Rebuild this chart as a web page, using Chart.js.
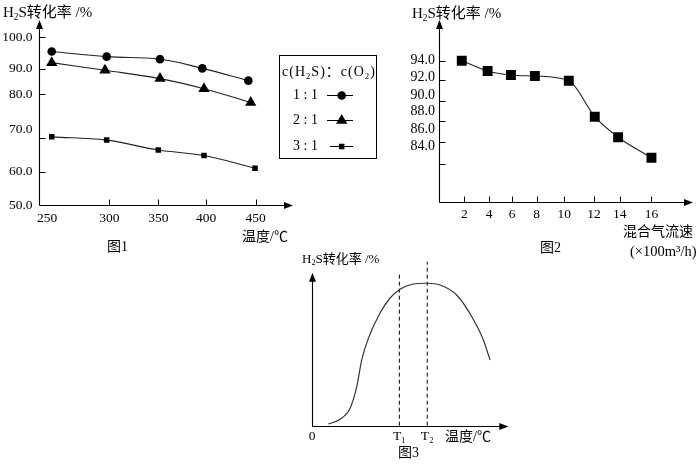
<!DOCTYPE html>
<html>
<head>
<meta charset="utf-8">
<script src="https://cdn.jsdelivr.net/npm/chart.js@4/dist/chart.umd.min.js"></script>
<style>
  html, body { margin: 0; padding: 0; background: #fff; }
  body { position: relative; width: 700px; height: 464px; overflow: hidden; }
  canvas { position: absolute; }
  .t { position: absolute; line-height: 1; white-space: nowrap; transform: translateY(-50%);
       font-family: "Liberation Serif", "Noto Sans CJK SC", serif; font-size: 14px; color: #000; }
  .t .s { font-size: 0.62em; position: relative; top: 0.3em; }
  .box { position: absolute; border: 1px solid #000; }
</style>
</head>
<body>
<canvas id="fig1" width="390" height="250" style="left:0;top:0"></canvas>
<canvas id="fig2" width="300" height="250" style="left:400px;top:0"></canvas>
<canvas id="fig3" width="230" height="195" style="left:290px;top:250px"></canvas>

<!-- textes du figure 1 -->
<div class="t" style="left:3px;top:12px;font-size:15px">H<span class="s">2</span>S转化率 /%</div>
<div class="t" style="left:242px;top:237px">温度/℃</div>
<div class="t" style="left:107px;top:247px">图1</div>
<div class="box" style="left:279px;top:55px;width:96px;height:102px"></div>
<div class="t" style="left:282px;top:72px;font-size:14px;letter-spacing:1px">c(H<span class="s">2</span>S)：c(O<span class="s">2</span>)</div>
<div class="t" style="left:293px;top:95px">1 : 1</div>
<div class="t" style="left:293px;top:120px">2 : 1</div>
<div class="t" style="left:293px;top:146px">3 : 1</div>

<!-- textes du figure 2 -->
<div class="t" style="left:412px;top:13px;font-size:15px">H<span class="s">2</span>S转化率 /%</div>
<div class="t" style="left:623px;top:232px">混合气流速</div>
<div class="t" style="left:630px;top:251px;font-size:14.5px">(×100m³/h)</div>
<div class="t" style="left:540px;top:248px">图2</div>

<!-- textes du figure 3 -->
<div class="t" style="left:302px;top:259px;font-size:13px">H<span class="s">2</span>S转化率 /%</div>
<div class="t" style="left:445px;top:437px">温度/℃</div>
<div class="t" style="left:398px;top:453px">图3</div>

<script>
// Données du figure 1 (température en °C, taux de conversion en %)
const temps11 = [253.8, 297.9, 351.8, 396.1, 442.6];
const conv11 = [95.5, 93.9, 93.1, 90.2, 85.4];
const temps21 = [253.8, 296.5, 351.8, 397.9, 445.0];
const conv21 = [92.0, 89.5, 86.2, 82.2, 78.1];
const temps31 = [253.8, 297.9, 350.0, 397.9, 449.3];
const conv31 = [70.2, 69.3, 66.4, 64.8, 61.1];
const fig1XTicks = [250, 300, 350, 400, 450];
const fig1YTicks = [50, 60, 70, 80, 90, 100];
const ratioLabels = ['1 : 1', '2 : 1', '3 : 1'];

// Données du figure 2 (débit ×100 m3/h)
const flowRates = [1.8, 3.87, 5.89, 7.86, 10.31, 12.05, 13.87, 16.0];
const conv2 = [94.0, 92.93, 92.52, 92.41, 91.93, 88.42, 86.43, 84.56];
const fig2XTicks = [2, 4, 6, 8, 10, 12, 14, 16];
const fig2YTicks = [84, 86, 88, 90, 92, 94];

// Données du figure 3 (courbe qualitative)
const curveT = [8.3, 14.3, 19.4, 22.8, 25.3, 28.7, 34.6, 39.7, 44.8, 51.6, 58.4, 65.2, 73.7, 81.4, 87.3, 90.7];
const curveConv = [1.1, 4.2, 11.4, 25.5, 42.9, 57.1, 73.5, 83.3, 89.2, 92.6, 93.1, 92.0, 85.4, 71.2, 56.0, 42.9];
const T1 = 44.5;
const T2 = 58.7;
const fig3XLabels = ['0', 'T₁', 'T₂'];

// Echelle linéaire par morceaux (les axes du manuel ne sont pas réguliers)
class StopScale extends Chart.LinearScale {
    determineDataLimits() {
        const s = this.options.stops;
        this.min = s[0][0];
        this.max = s[s.length - 1][0];
    }
    buildTicks() {
        return (this.options.tickValues || []).map(v => ({ value: v }));
    }
    _frac(v) {
        const s = this.options.stops;
        const p0 = s[0][1], pN = s[s.length - 1][1];
        let i = 1;
        while (i < s.length - 1 && v > s[i][0]) i++;
        const a = s[i - 1], b = s[i];
        const pos = a[1] + (v - a[0]) / (b[0] - a[0]) * (b[1] - a[1]);
        return (pos - p0) / (pN - p0);
    }
    getPixelForValue(v) {
        if (v === null || v === undefined || isNaN(v)) return NaN;
        return this.getPixelForDecimal(this._frac(v));
    }
    getValueForPixel(p) {
        return this.min + this.getDecimalForPixel(p) * (this.max - this.min);
    }
}
StopScale.id = 'stops';
StopScale.defaults = {};
Chart.register(StopScale);

// Axes avec flèches et petites graduations vers l'intérieur
const arrowAxes = {
    id: 'arrowAxes',
    beforeDatasetsDraw(chart, args, opts) {
        const { ctx, chartArea: a } = chart;
        const xs = chart.scales.x, ys = chart.scales.y;
        const L = Math.round(a.left) + 0.5, B = Math.round(a.bottom) + 0.5;
        ctx.save();
        ctx.strokeStyle = '#000';
        ctx.fillStyle = '#000';
        ctx.lineWidth = 1.1;
        ctx.beginPath();
        ctx.moveTo(L, B); ctx.lineTo(L, a.top + 6);
        ctx.moveTo(L, B); ctx.lineTo(a.right - 6, B);
        ctx.stroke();
        ctx.beginPath();
        ctx.moveTo(L, a.top); ctx.lineTo(L - 3.5, a.top + 9); ctx.lineTo(L + 3.5, a.top + 9); ctx.closePath();
        ctx.moveTo(a.right, B); ctx.lineTo(a.right - 9, B - 3.5); ctx.lineTo(a.right - 9, B + 3.5); ctx.closePath();
        ctx.fill();
        ctx.lineWidth = 1;
        ctx.beginPath();
        (opts.xMarks || []).forEach(v => {
            const px = Math.round(xs.getPixelForValue(v)) + 0.5;
            ctx.moveTo(px, B); ctx.lineTo(px, B - 6);
        });
        (opts.yMarks || []).forEach(v => {
            const py = Math.round(ys.getPixelForValue(v)) + 0.5;
            ctx.moveTo(L, py); ctx.lineTo(L + 6, py);
        });
        ctx.stroke();
        ctx.restore();
    }
};

// Symboles de la légende du figure 1
const ratioLegend = {
    id: 'ratioLegend',
    afterDatasetsDraw(chart, args, opts) {
        if (!opts.rows) return;
        const ctx = chart.ctx;
        chart.data.datasets.forEach((ds, i) => {
            const row = opts.rows[i];
            if (!row) return;
            ctx.save();
            ctx.strokeStyle = '#000';
            ctx.fillStyle = '#000';
            ctx.lineWidth = 1;
            ctx.beginPath();
            ctx.moveTo(row.from, row.y + 0.5);
            ctx.lineTo(row.to, row.y + 0.5);
            ctx.stroke();
            const r = ds.pointRadius, x = opts.markX, y = row.y + 0.5;
            ctx.beginPath();
            if (ds.pointStyle === 'triangle') {
                ctx.moveTo(x, y - r);
                ctx.lineTo(x + Math.sin(2.094) * r, y + r / 2);
                ctx.lineTo(x - Math.sin(2.094) * r, y + r / 2);
                ctx.closePath();
            } else if (ds.pointStyle === 'rect') {
                const h = r * Math.SQRT1_2;
                ctx.rect(x - h, y - h, 2 * h, 2 * h);
            } else {
                ctx.arc(x, y, r, 0, Math.PI * 2);
            }
            ctx.fill();
            ctx.restore();
        });
    }
};

const tickFont = { family: '"Liberation Serif", serif', size: 13.5 };

function pts(xs, ys) {
    return xs.map((x, i) => ({ x: x, y: ys[i] }));
}

function serie(label, xs, ys, style, radius) {
    return {
        label: label,
        data: pts(xs, ys),
        showLine: true,
        borderColor: '#222',
        borderWidth: 1.1,
        backgroundColor: '#000',
        pointBackgroundColor: '#000',
        pointBorderColor: '#000',
        pointBorderWidth: 0,
        pointStyle: style,
        pointRadius: radius,
        tension: 0.4,
        xAxisID: 'x',
        yAxisID: 'y'
    };
}

// pas de grille ni de graduations Chart.js (dessinées par arrowAxes)
function hiddenGrid() {
    return { display: false, drawTicks: false, tickLength: 0 };
}

// Figure 1
new Chart(document.getElementById('fig1'), {
    type: 'scatter',
    data: {
        datasets: [
            serie(ratioLabels[0], temps11, conv11, 'circle', 4.3),
            serie(ratioLabels[1], temps21, conv21, 'triangle', 6.5),
            serie(ratioLabels[2], temps31, conv31, 'rect', 3.9)
        ]
    },
    options: {
        responsive: false,
        animation: false,
        layout: { padding: { left: 0, top: 20, right: 97, bottom: 0 } },
        scales: {
            x: {
                type: 'stops', position: 'bottom',
                stops: [[243, 38.5], [250, 47], [300, 109.3], [350, 158.3], [400, 206], [450, 255.7], [488, 293]],
                tickValues: fig1XTicks,
                grid: hiddenGrid(), border: { display: false },
                ticks: { font: tickFont, color: '#000', padding: 5, autoSkip: false, maxRotation: 0, minRotation: 0,
                         callback: v => String(v) },
                afterFit: s => { s.height = 45; }
            },
            y: {
                type: 'stops', position: 'left', display: false,
                stops: [[50, 205], [60, 172], [70, 137.7], [80, 94.3], [90, 69], [100, 37.3], [105.5, 20]],
                tickValues: fig1YTicks
            },
            yl: {
                type: 'stops', position: 'left',
                stops: [[50, 205], [60, 171.7], [70, 129], [80, 94.3], [90, 68.3], [100, 37], [105.5, 20]],
                tickValues: fig1YTicks,
                grid: hiddenGrid(), border: { display: false },
                ticks: { font: tickFont, color: '#000', padding: 6, autoSkip: false, callback: v => v.toFixed(1) },
                afterFit: s => { s.width = 38.5; }
            }
        },
        plugins: {
            legend: { display: false },
            tooltip: { enabled: false },
            arrowAxes: { xMarks: [300, 350, 400, 450], yMarks: [60, 70, 80, 90, 100] },
            ratioLegend: {
                markX: 341.7,
                rows: [{ y: 95, from: 327, to: 353 }, { y: 120, from: 327, to: 353 }, { y: 146, from: 330, to: 353 }]
            }
        }
    },
    plugins: [arrowAxes, ratioLegend]
});

// Figure 2
const s2 = serie('H2S', flowRates, conv2, 'rect', 7);
s2.cubicInterpolationMode = 'monotone';
new Chart(document.getElementById('fig2'), {
    type: 'scatter',
    data: { datasets: [s2] },
    options: {
        responsive: false,
        animation: false,
        layout: { padding: { left: 0, top: 20, right: 6.7, bottom: 0 } },
        scales: {
            x: {
                type: 'stops', position: 'bottom',
                stops: [[0, 439.3], [2, 464.3], [4, 489.3], [6, 512.3], [8, 536.7], [10, 564.3], [12, 594.3], [14, 620], [16, 651.7], [18.6, 693.3]],
                tickValues: fig2XTicks,
                grid: hiddenGrid(), border: { display: false },
                ticks: { font: { family: '"Liberation Serif", serif', size: 13.5 }, color: '#000', padding: 4.5,
                         autoSkip: false, maxRotation: 0, minRotation: 0, callback: v => String(v) },
                afterFit: s => { s.height = 48.3; }
            },
            y: {
                type: 'stops', position: 'left', display: false,
                stops: [[80.4, 201.7], [84, 164], [86, 141.7], [88, 121], [90, 100.7], [92, 80], [94, 60.7], [98.2, 20]],
                tickValues: fig2YTicks
            },
            yl: {
                type: 'stops', position: 'left',
                stops: [[78, 201.7], [84, 146.7], [86, 129.3], [88, 111.7], [90, 95], [92, 77.7], [94, 60.7], [98, 20]],
                tickValues: fig2YTicks,
                grid: hiddenGrid(), border: { display: false },
                ticks: { font: { family: '"Liberation Serif", serif', size: 14 }, color: '#000', padding: 4.3,
                         autoSkip: false, callback: v => v.toFixed(1) },
                afterFit: s => { s.width = 39.3; }
            }
        },
        plugins: {
            legend: { display: false },
            tooltip: { enabled: false },
            arrowAxes: { xMarks: fig2XTicks, yMarks: fig2YTicks }
        }
    },
    plugins: [arrowAxes]
});

// Figure 3
new Chart(document.getElementById('fig3'), {
    type: 'scatter',
    data: {
        datasets: [
            {
                data: pts(curveT, curveConv), showLine: true, borderColor: '#333', borderWidth: 1.2,
                pointRadius: 0, cubicInterpolationMode: 'monotone'
            },
            {
                data: [{ x: T1, y: 0 }, { x: T1, y: 100 }], showLine: true, borderColor: '#000',
                borderWidth: 1, borderDash: [4, 3], pointRadius: 0, clip: false
            },
            {
                data: [{ x: T2, y: 0 }, { x: T2, y: 107.2 }], showLine: true, borderColor: '#000',
                borderWidth: 1, borderDash: [4, 3], pointRadius: 0, clip: false
            }
        ]
    },
    options: {
        responsive: false,
        animation: false,
        layout: { padding: { left: 22, top: 22.7, right: 11.7, bottom: 0 } },
        scales: {
            x: {
                type: 'linear', position: 'bottom', min: 0, max: 100,
                afterBuildTicks: s => { s.ticks = [0, T1, T2].map(v => ({ value: v })); },
                grid: hiddenGrid(), border: { display: false },
                ticks: { font: { family: '"Liberation Serif", serif', size: 13.5 }, color: '#000', padding: 3,
                         autoSkip: false, maxRotation: 0, minRotation: 0,
                         callback: (v, i) => fig3XLabels[i] },
                afterFit: s => { s.height = 19.3; }
            },
            y: { type: 'linear', display: false, min: 0, max: 100 }
        },
        plugins: {
            legend: { display: false },
            tooltip: { enabled: false },
            arrowAxes: {}
        }
    },
    plugins: [arrowAxes]
});
</script>
</body>
</html>
